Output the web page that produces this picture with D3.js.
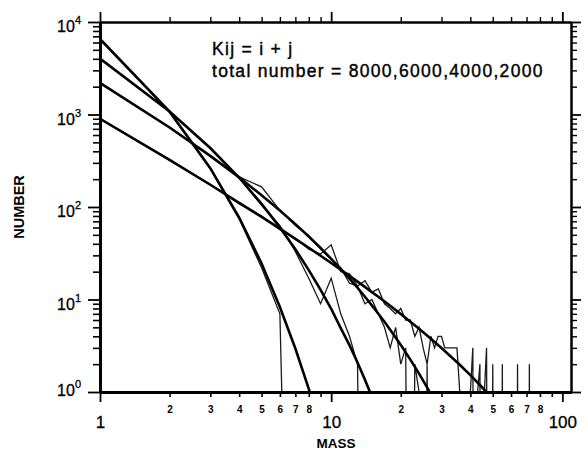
<!DOCTYPE html>
<html>
<head>
<meta charset="utf-8">
<script src="https://cdn.jsdelivr.net/npm/d3@7"></script>
<style>
  body { margin: 0; background: #fff; }
  svg { font-family: "Liberation Sans", Arial, sans-serif; }
  .axis path, .axis line { stroke: #000; }
</style>
</head>
<body>
<div id="chart"></div>
<script>
// theory curves (total number 8000, 6000, 4000, 2000)
const massA = [1, 2, 3, 4, 5, 6, 7, 8, 9];
const numA = [6550, 1072, 263, 77, 24.5, 8.3, 2.95, 1.08, 0.4];

const massB = [1, 2, 3, 4, 5, 6, 7, 8, 9, 10, 11, 12, 13, 14, 15, 16];
const numB = [4022, 1078, 434, 207, 108, 60.2, 34.9, 20.8, 12.7, 7.94, 4.9, 3.21, 2.08, 1.36, 0.89, 0.59];

const massC = [1, 2, 3, 4, 5, 6, 7, 8, 9, 10, 11, 12, 13, 14, 15, 16, 17, 18, 19, 20, 22, 24, 26, 28];
const numC = [2195, 723, 357, 209, 134, 91.8, 65.3, 47.9, 36, 27.5, 21.4, 16.8, 13.4, 10.7, 8.64, 7.02,
              5.74, 4.72, 3.89, 3.23, 2.24, 1.58, 1.12, 0.8];

const massD = [1, 2, 3, 4, 5, 6, 7, 8, 9, 10, 11, 12, 13, 14, 15, 16, 18, 20, 22, 24, 26, 28, 30, 33, 36, 40, 44, 48, 52];
const numD = [899, 323, 174, 111, 78.1, 58.3, 45.3, 36.3, 29.7, 24.8, 21, 18, 15.6, 13.7, 12, 10.7, 8.54,
              6.96, 5.76, 4.82, 4.08, 3.48, 2.99, 2.41, 1.97, 1.52, 1.19, 0.94, 0.75];

// simulation counts, mass = 1, 2, 3, ...
const simA = [6530, 1065, 258, 74, 22, 7, 0, 0, 0];
const simB = [4010, 1085, 428, 210, 104, 63, 33, 17, 9, 17, 7, 4, 2, 0, 0, 0, 0, 1, 0, 0];
const simC = [2190, 728, 352, 212, 165, 92, 63, 49, 35, 27,
              22, 15, 14, 9, 10, 7, 5, 3, 5, 2,
              3, 0, 2, 1, 0, 2, 0, 1, 0, 0];
const simD = [905, 318, 176, 108, 80, 57, 46, 35, 31, 39,
              20, 19, 14, 16, 12, 13, 9, 8, 7, 8,
              6, 6, 4, 5, 3, 2, 4, 3, 4, 4,
              3, 3, 3, 3, 3, 1, 1, 1, 1, 1,
              3, 0, 1, 2, 0, 1, 3, 0, 0, 2,
              0, 0, 1, 0, 2, 0, 0, 0, 0, 1,
              0, 0, 0, 2, 0, 0, 0, 1, 0, 0,
              0, 2, 0, 0, 0, 1, 0, 0, 0, 0];

// ticks
const xMajor = [1, 10, 100];
const xMinor = [2, 3, 4, 5, 6, 7, 8, 9, 20, 30, 40, 50, 60, 70, 80, 90];
const xMinorLabeled = [2, 3, 4, 5, 6, 7, 8, 20, 30, 40, 50, 60, 70, 80];
const yMajor = [1, 10, 100, 1000, 10000];
const yExp = ["0", "1", "2", "3", "4"];
const yMinor = [];
[1, 10, 100, 1000].forEach(p => [2, 3, 4, 5, 6, 7, 8, 9].forEach(k => yMinor.push(k * p)));

const width = 588, height = 452;
const pLeft = 100, pRight = 571, pTop = 22, pBottom = 392;

const svg = d3.select("#chart").append("svg")
    .attr("width", width)
    .attr("height", height);

const x = d3.scaleLog().domain([1, 109]).range([pLeft, pRight]);
const y = d3.scaleLog().domain([1, 10000]).range([pBottom, pTop]);

svg.append("clipPath").attr("id", "plotClip")
  .append("rect")
    .attr("x", pLeft).attr("y", pTop)
    .attr("width", pRight - pLeft).attr("height", pBottom - pTop);

// data lines
const line = d3.line()
    .x(d => x(d[0]))
    .y(d => y(Math.max(d[1], 1e-6)));

const plot = svg.append("g").attr("clip-path", "url(#plotClip)");

const sims = [simA, simB, simC, simD];
sims.forEach(s => {
  plot.append("path")
      .datum(s.map((v, i) => [i + 1, v]))
      .attr("fill", "none")
      .attr("stroke", "#1a1a1a")
      .attr("stroke-width", 1.3)
      .attr("d", line);
});

const theory = [[massA, numA], [massB, numB], [massC, numC], [massD, numD]];
theory.forEach(([m, n]) => {
  plot.append("path")
      .datum(m.map((v, i) => [v, n[i]]))
      .attr("fill", "none")
      .attr("stroke", "#000")
      .attr("stroke-width", 2.6)
      .attr("d", line);
});

// axes
function styleAxis(g, domainWidth, tickWidth) {
  g.attr("class", "axis").attr("font-family", null);
  g.select(".domain").attr("stroke-width", domainWidth);
  g.selectAll(".tick line").attr("stroke-width", tickWidth);
}

// bottom
svg.append("g")
    .attr("transform", `translate(0,${pBottom})`)
    .call(d3.axisBottom(x).tickValues(xMinor).tickSize(5).tickSizeOuter(0).tickPadding(9)
      .tickFormat(d => xMinorLabeled.includes(d) ? String(d)[0] : ""))
    .call(g => styleAxis(g, 2.8, 1.6))
    .call(g => g.selectAll("text").attr("font-size", 10).attr("font-weight", "bold").attr("fill", "#000"));

svg.append("g")
    .attr("transform", `translate(0,${pBottom})`)
    .call(d3.axisBottom(x).tickValues(xMajor).tickSize(10).tickSizeOuter(0).tickPadding(14)
      .tickFormat(d3.format("d")))
    .call(g => styleAxis(g, 2.8, 1.8))
    .call(g => g.selectAll("text").attr("font-size", 17).attr("fill", "#000")
      .attr("stroke", "#000").attr("stroke-width", 0.3));

// top
svg.append("g")
    .attr("transform", `translate(0,${pTop})`)
    .call(d3.axisTop(x).tickValues(xMinor).tickSize(5).tickSizeOuter(0).tickFormat(""))
    .call(g => styleAxis(g, 2, 1.4));
svg.append("g")
    .attr("transform", `translate(0,${pTop})`)
    .call(d3.axisTop(x).tickValues(xMajor).tickSize(10).tickSizeOuter(0).tickFormat(""))
    .call(g => styleAxis(g, 2, 1.8));

// left
svg.append("g")
    .attr("transform", `translate(${pLeft},0)`)
    .call(d3.axisLeft(y).tickValues(yMinor).tickSize(7).tickSizeOuter(0).tickFormat(""))
    .call(g => styleAxis(g, 2.8, 1.6));
svg.append("g")
    .attr("transform", `translate(${pLeft},0)`)
    .call(d3.axisLeft(y).tickValues(yMajor).tickSize(12).tickSizeOuter(0).tickFormat(""))
    .call(g => styleAxis(g, 2.8, 1.8));

// right
svg.append("g")
    .attr("transform", `translate(${pRight},0)`)
    .call(d3.axisRight(y).tickValues(yMinor).tickSize(6).tickSizeOuter(0).tickFormat(""))
    .call(g => styleAxis(g, 2, 1.4));
svg.append("g")
    .attr("transform", `translate(${pRight},0)`)
    .call(d3.axisRight(y).tickValues(yMajor).tickSize(10).tickSizeOuter(0).tickFormat(""))
    .call(g => styleAxis(g, 2, 1.8));

// y tick labels 10^n
yMajor.forEach((v, i) => {
  const t = svg.append("text")
      .attr("x", 81)
      .attr("y", y(v) + (i === 0 ? 4 : 10))
      .attr("text-anchor", "end")
      .attr("font-size", 16)
      .attr("stroke", "#000").attr("stroke-width", 0.3);
  t.append("tspan").text("10");
  t.append("tspan").attr("dy", -8).attr("font-size", 11).text(yExp[i]);
});

// axis titles
svg.append("text")
    .attr("x", 336).attr("y", 448)
    .attr("text-anchor", "middle")
    .attr("font-size", 13.5).attr("font-weight", "bold")
    .text("MASS");

svg.append("text")
    .attr("transform", `translate(24,${(pTop + pBottom) / 2}) rotate(-90)`)
    .attr("text-anchor", "middle")
    .attr("font-size", 14.5).attr("font-weight", "bold")
    .text("NUMBER");

// annotation
svg.append("text")
    .attr("x", 212).attr("y", 55)
    .attr("font-size", 17.5).attr("letter-spacing", 1.3)
    .attr("stroke", "#000").attr("stroke-width", 0.4)
    .text("Kij = i + j");
svg.append("text")
    .attr("x", 212).attr("y", 77)
    .attr("font-size", 17.5).attr("letter-spacing", 1.3)
    .attr("stroke", "#000").attr("stroke-width", 0.4)
    .text("total number = 8000,6000,4000,2000");
</script>
</body>
</html>
